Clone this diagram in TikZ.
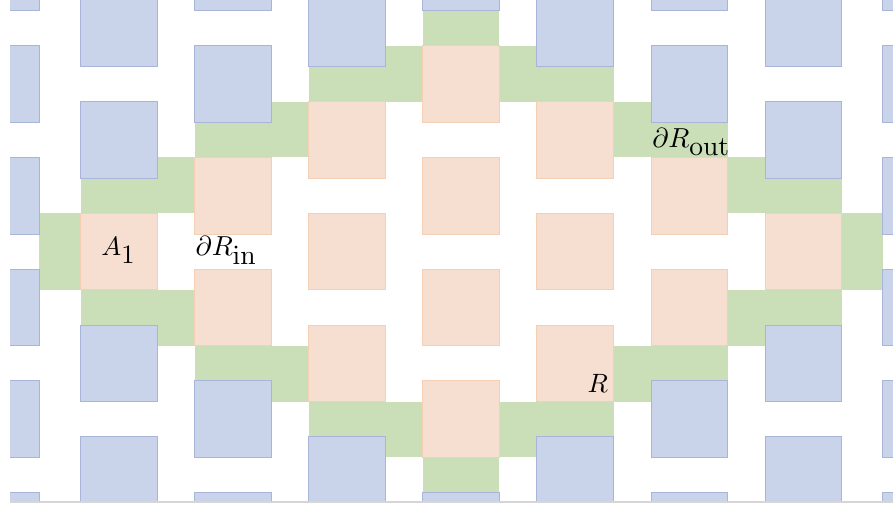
\documentclass[tikz,border=0pt]{standalone}
\usepackage{graphicx}
\DeclareMathSizes{10}{10}{10}{7}
\definecolor{bfill}{HTML}{C9D3EA}
\definecolor{bline}{HTML}{A9B5D8}
\definecolor{ofill}{HTML}{F6DFD0}
\definecolor{oline}{HTML}{F4CFB4}
\definecolor{gfill}{HTML}{CADFB8}
\definecolor{frameline}{HTML}{D6D6D6}
\tikzset{
  bluebox/.style={fill=bfill, draw=bline, line width=0.9pt},
  orangebox/.style={fill=ofill, draw=oline, line width=0.9pt},
  greenbox/.style={fill=gfill, draw=none},
  lab/.style={anchor=base west, inner sep=0pt, font=\fontsize{10}{12}\selectfont}
}
\newcommand{\biglab}[2][2.65]{\scalebox{#1}{$#2$}}
\begin{document}
\begin{tikzpicture}[x=1pt,y=-1pt]
\useasboundingbox (0,0) rectangle (893,510);
\begin{scope}
\clip (10,0) rectangle (893,501);
% green boundary strips
\foreach \xa/\ya/\xb/\yb in {
  39.3/213.3/80.5/289.8,
  80.5/157.5/194.6/213.3,
  194.6/101.6/308.7/157.5,
  308.7/45.8/422.8/101.6,
  422.8/0/499.3/45.8,
  499.3/45.8/613.6/101.6,
  613.6/101.6/727.7/157.5,
  727.7/157.5/841.8/213.3,
  841.8/213.3/882.7/289.8,
  80.5/289.8/194.6/345.7,
  194.6/345.7/308.7/401.5,
  308.7/401.5/422.8/457.4,
  422.8/457.4/499.3/501,
  499.3/401.5/613.6/457.4,
  613.6/345.7/727.7/401.5,
  727.7/289.8/841.8/345.7}
  \fill[greenbox] (\xa,\ya) rectangle (\xb,\yb);
% squares of the lattice
\foreach \x/\y/\lo/\hi in {
  -37.4/45.8/9/-9,
  80.5/101.6/1/1,
  194.6/45.8/1/2,
  308.7/101.6/0/2,
  422.8/45.8/0/3,
  536.9/101.6/0/2,
  651.0/45.8/1/2,
  765.1/101.6/1/1,
  882.7/45.8/9/-9}{
  \foreach \k in {-1,...,4}{
    \pgfmathsetmacro\yy{\y+111.7*\k}
    \ifnum\k<\lo\relax \def\st{bluebox}\else
      \ifnum\k>\hi\relax \def\st{bluebox}\else \def\st{orangebox}\fi\fi
    \draw[\st] (\x,\yy) rectangle ++(76.7,76.5);
  }
}
\end{scope}
\draw[frameline, line width=2pt] (10,502) -- (893,502);
% labels
\node[lab] (a1) at (101.2,256) {\biglab{A_1}};
\node[lab] (rin) at (195.5,256) {\biglab[2.75]{\partial R_{\mathrm{in}}}};
\node[lab] (rout) at (652.2,147.7) {\biglab[2.75]{\partial R_{\mathrm{out}}}};
\node[lab] (r) at (587.5,392.3) {\biglab{R}};
\end{tikzpicture}
\end{document}
